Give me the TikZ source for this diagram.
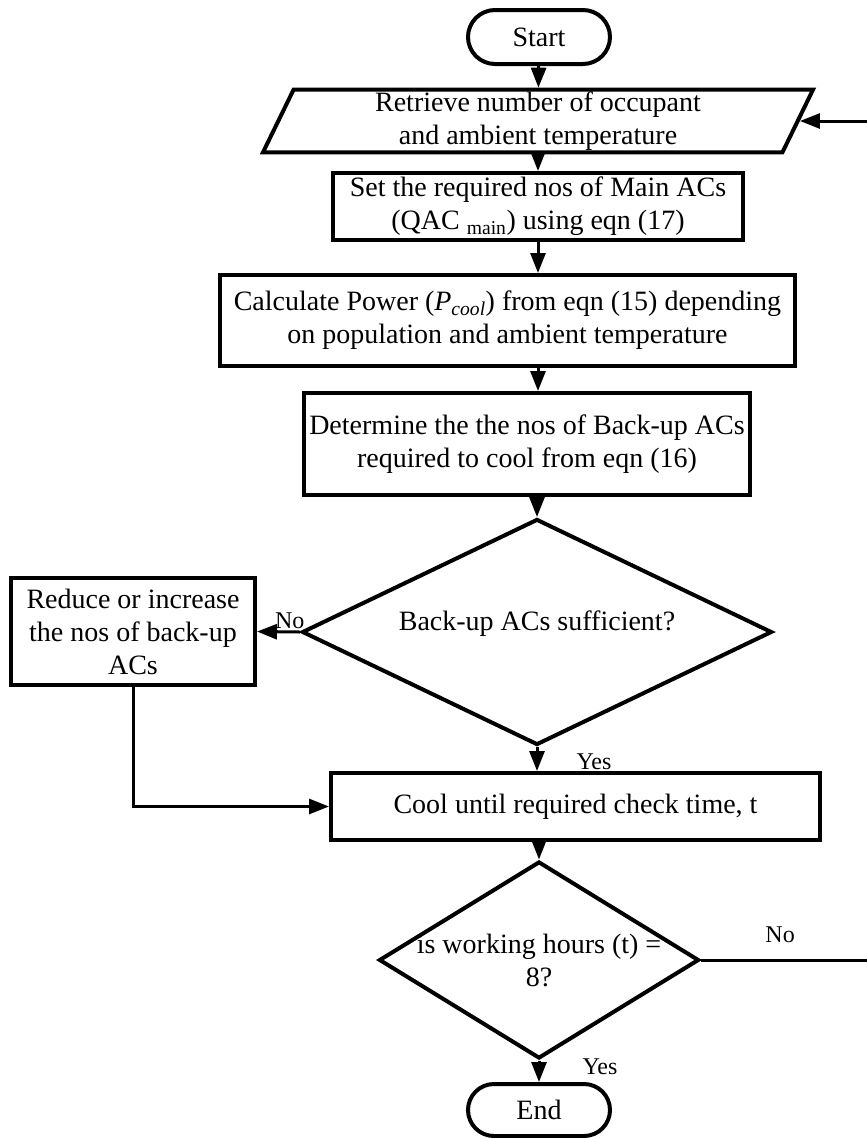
\documentclass[tikz,border=0pt]{standalone}
\usepackage{fontspec}
\setmainfont{Liberation Serif}
\usetikzlibrary{arrows.meta,positioning,shapes.geometric,shapes.misc}
\tikzset{
  fc/base/.style={
    draw=black,
    line width=4pt,
    align=center,
    font=\fontsize{28}{33}\selectfont,
    inner xsep=2pt,
    inner ysep=2pt
  },
  fc/box/.style={fc/base, rectangle},
  fc/term/.style={fc/base, rounded rectangle, minimum width=146pt, minimum height=54pt},
  fc/io/.style={
    fc/base,
    trapezium,
    trapezium left angle=64,
    trapezium right angle=116,
    trapezium stretches body,
    minimum width=550pt,
    minimum height=62pt
  },
  fc/dec/.style={fc/base, diamond, inner sep=0pt},
  fc/dectext/.style={font=\fontsize{28}{33}\selectfont, align=center, inner sep=0pt},
  fc/arrow/.style={-{Triangle[length=20pt,width=15pt]}, line width=3pt},
  fc/tinylabel/.style={font=\fontsize{24}{28}\selectfont, inner sep=2pt}
}
\begin{document}
\begin{tikzpicture}[x=1pt,y=-1pt]
  \useasboundingbox (0,0) rectangle (867,1138);
  \node[fc/term] (start) at (539,37) {Start};
  \node[fc/io] (inp) at (538,121) {Retrieve number of occupant\\and ambient temperature};
  \node[fc/box,minimum width=410pt,minimum height=67pt] (setq) at (538,206.5)
    {Set the required nos of Main ACs\\(QAC\ \textsubscript{main}) using eqn (17)};
  \node[fc/box,minimum width=575pt,minimum height=91pt] (calc) at (507.5,320.5)
    {Calculate Power (\textit{P}\textsubscript{\textit{cool}}) from eqn (15) depending\\on population and ambient temperature};
  \node[fc/box,minimum width=446pt,minimum height=102pt] (det) at (527,444)
    {Determine the the nos of Back-up ACs\\required to cool from eqn (16)};
  \node[fc/dec,minimum width=470pt,minimum height=226pt,
    label={[fc/dectext,yshift=8pt]center:{Back-up ACs sufficient?}}] (dec1) at (537,632) {};
  \node[fc/box,minimum width=244pt,minimum height=107pt] (red) at (133,631.5)
    {Reduce or increase\\the nos of back-up\\ACs};
  \node[fc/box,minimum width=489pt,minimum height=67pt] (cool) at (575.5,806.5)
    {Cool until required check time, t};
  \node[fc/dec,minimum width=320pt,minimum height=197pt,
    label={[fc/dectext]center:{is working hours (t) =\\8?}}] (dec2) at (539,960) {};
  \node[fc/term,minimum height=52pt] (end) at (539,1110) {End};

  \draw[fc/arrow] (start) -- (inp);
  \draw[fc/arrow] (inp) -- (setq);
  \draw[fc/arrow] (setq.south) -- (setq.south |- calc.north);
  \draw[fc/arrow] (setq.south |- calc.south) -- (setq.south |- det.north);
  \draw[fc/arrow] (dec1.north |- det.south) -- (dec1.north);
  \draw[fc/arrow] (dec1.west) -- node[fc/tinylabel,above,pos=0.24] {No} (red.east);
  \draw[fc/arrow] (dec1.south) -- node[fc/tinylabel,pos=0.6,right=36pt] {Yes} (dec1.south |- cool.north);
  \draw[fc/arrow] (red.south) |- (cool.west);
  \draw[fc/arrow] (dec2.north |- cool.south) -- (dec2.north);
  \draw[fc/arrow] (dec2.south) -- node[fc/tinylabel,pos=0.27,right=40pt] {Yes} (end.north);
  \draw[fc/arrow] (dec2.east) -- node[fc/tinylabel,above=14pt,pos=0.46] {No} ++(172,0) |- (inp.east);
\end{tikzpicture}
\end{document}
